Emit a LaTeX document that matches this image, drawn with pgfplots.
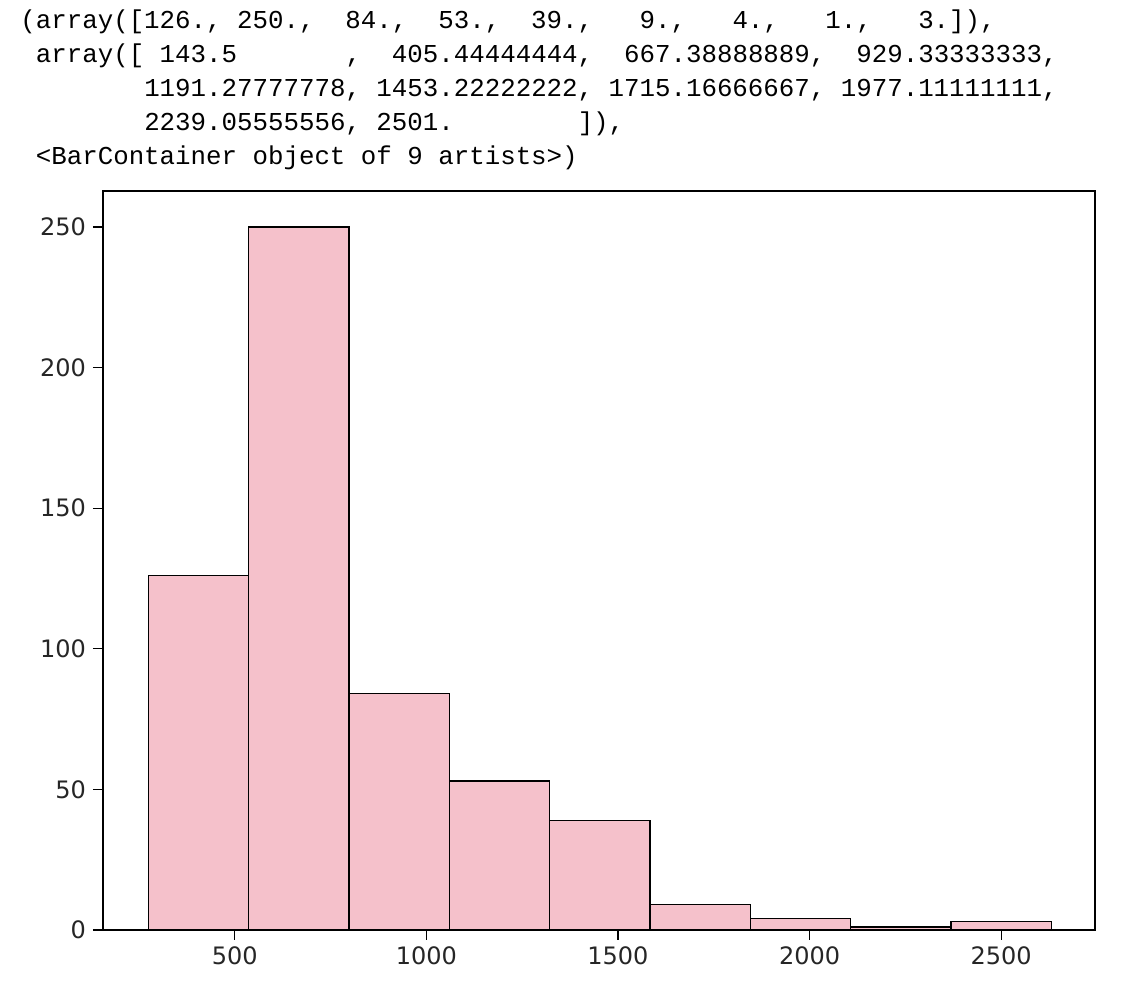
\documentclass[border=0pt]{standalone}
\usepackage{pgfplots}
\pgfplotsset{compat=1.18}
\usepackage{fontspec}
\setmainfont{DejaVu Sans}
\newfontfamily\mono{Liberation Mono}
\definecolor{barpink}{HTML}{F5C1CB}
\begin{document}
\begin{tikzpicture}[x=1pt,y=1pt]
\path (0,0) rectangle (563,498);
\begin{axis}[
  at={(51.5pt,33pt)}, anchor=south west,
  scale only axis, width=496pt, height=369.5pt,
  xmin=156, xmax=2745, ymin=0, ymax=262.8,
  xtick={500,1000,1500,2000,2500}, ytick={0,50,100,150,200,250},
  tick align=outside, tick pos=left,
  major tick length=5pt,
  tick style={black, line width=0.6pt},
  axis line style={line width=0.6pt},
  ticklabel style={font=\fontsize{12}{14}\selectfont, text=black!85},
  /pgf/number format/assume math mode=true,
  /pgf/number format/1000 sep={},
]
\addplot[ybar interval, fill=barpink, draw=black, line width=0.7pt] coordinates {
(274,126) (535.9,250) (797.9,84) (1059.8,53) (1321.8,39) (1583.7,9) (1845.7,4) (2107.6,1) (2369.6,3) (2631.5,3)};
\end{axis}
\begin{scope}[every node/.style={anchor=west, inner sep=0pt, font=\mono\fontsize{12.9}{15}\selectfont}]
\node at (10,487) {(array([126.,~250.,~~84.,~~53.,~~39.,~~~9.,~~~4.,~~~1.,~~~3.]),};
\node at (10,470) {~array([~143.5~~~~~~~,~~405.44444444,~~667.38888889,~~929.33333333,};
\node at (10,453) {~~~~~~~~1191.27777778,~1453.22222222,~1715.16666667,~1977.11111111,};
\node at (10,436) {~~~~~~~~2239.05555556,~2501.~~~~~~~~]),};
\node at (10,419) {~<BarContainer~object~of~9~artists>)};
\end{scope}
\end{tikzpicture}
\end{document}
